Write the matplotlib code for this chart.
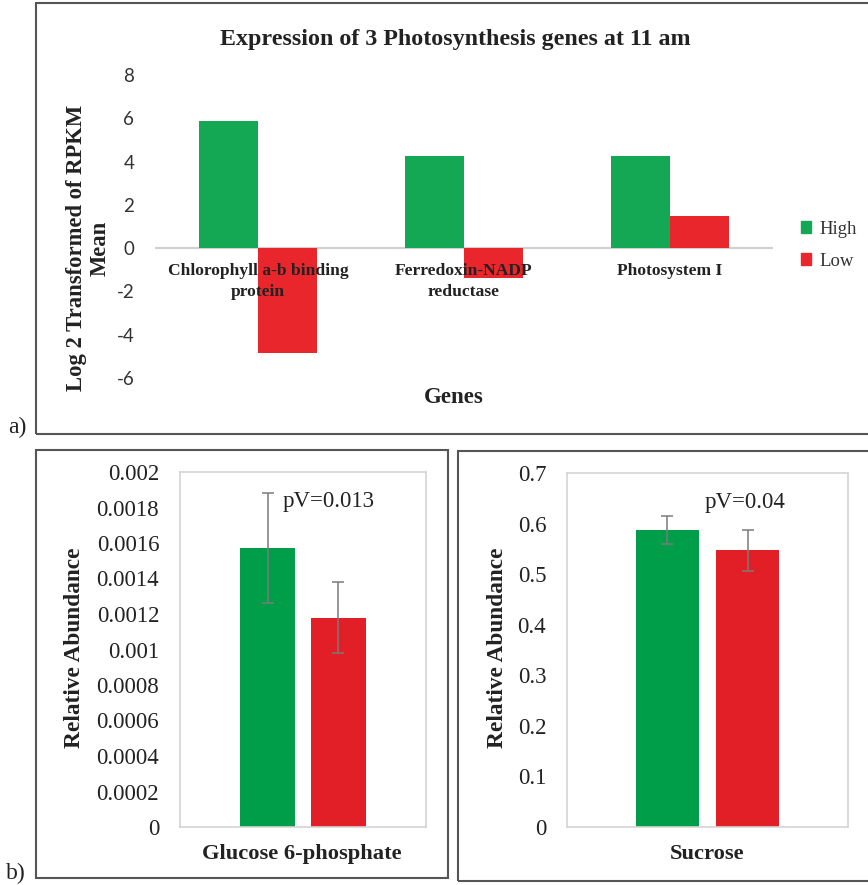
import matplotlib
matplotlib.use("Agg")
import matplotlib.pyplot as plt
from matplotlib.patches import Rectangle, Patch

# ---- data ----
genes = ["Chlorophyll a-b binding\nprotein", "Ferredoxin-NADP\nreductase", "Photosystem I"]
expr_high = [5.86, 4.24, 4.24]
expr_low = [-4.84, -1.36, 1.50]
expr_ticks = [-6, -4, -2, 0, 2, 4, 6, 8]

g6p_means = [0.00157, 0.00118]
g6p_err = [0.00031, 0.00020]
g6p_ticks = [0, 0.0002, 0.0004, 0.0006, 0.0008, 0.001, 0.0012, 0.0014, 0.0016, 0.0018, 0.002]
g6p_tick_labels = ["0", "0.0002", "0.0004", "0.0006", "0.0008", "0.001", "0.0012",
                   "0.0014", "0.0016", "0.0018", "0.002"]

suc_means = [0.587, 0.547]
suc_err = [0.027, 0.040]
suc_ticks = [0, 0.1, 0.2, 0.3, 0.4, 0.5, 0.6, 0.7]

W, H = 868, 885
fig = plt.figure(figsize=(W / 100, H / 100), dpi=100)
SERIF = "Liberation Serif"

def fx(px):
    return px / W

def fy(py):
    return 1 - py / H

def box(x0, y0, x1, y1, color="#555555", lw=1.5):
    fig.add_artist(Rectangle((fx(x0), fy(y1)), fx(x1) - fx(x0), fy(y0) - fy(y1),
                             transform=fig.transFigure, fill=False,
                             edgecolor=color, linewidth=lw, clip_on=False))

# ---- panel a: gene expression ----
green_a, red_a = "#14a854", "#e9262b"
ax = fig.add_axes([fx(155), fy(378), fx(773) - fx(155), fy(75) - fy(378)])
xs = range(len(genes))
bw = 0.286
ax.bar([x - bw / 2 for x in xs], expr_high, width=bw, color=green_a, label="High", zorder=2)
ax.bar([x + bw / 2 for x in xs], expr_low, width=bw, color=red_a, label="Low", zorder=2)
ax.axhline(0, color="#d0d0d0", linewidth=1.6, zorder=1)
ax.set_xlim(-0.5, len(genes) - 0.5)
ax.set_ylim(-6, 8)
ax.set_yticks(expr_ticks)
ax.set_yticklabels([str(t) for t in expr_ticks], fontfamily="Lato", fontsize=13.5, color="#333333")
ax.tick_params(axis="y", length=0, pad=15)
ax.set_xticks([])
for s in ax.spines.values():
    s.set_visible(False)
for x, g in zip(xs, genes):
    ax.annotate(g, xy=(x, 0), xytext=(0, -10.5), textcoords="offset points",
                ha="center", va="top", fontfamily=SERIF, fontweight="bold",
                fontsize=12.6, linespacing=1.4, color="#222222", zorder=3)

fig.text(fx(455), fy(40), "Expression of 3 Photosynthesis genes at 11 am",
         ha="center", va="center", fontfamily=SERIF, fontweight="bold", fontsize=17.3,
         color="#222222")
fig.text(fx(88), fy(248), "Log 2 Transformed of RPKM\nMean", rotation=90,
         ha="center", va="center", fontfamily=SERIF, fontweight="bold", fontsize=16.3,
         linespacing=1.15, color="#222222", multialignment="center")
fig.text(fx(454), fy(398), "Genes", ha="center", va="center", fontfamily=SERIF,
         fontweight="bold", fontsize=16.5, color="#222222")
ax.legend(handles=[Patch(color=green_a, label="High"), Patch(color=red_a, label="Low")],
          loc="center left", bbox_to_anchor=(fx(801), fy(245)), bbox_transform=fig.transFigure,
          frameon=False, prop={"family": SERIF, "size": 13.5}, handlelength=0.55,
          handleheight=0.55, handletextpad=0.45, labelspacing=0.8, borderpad=0,
          borderaxespad=0, labelcolor="#333333")
fig.text(fx(17), fy(427), "a)", ha="center", va="center", fontfamily=SERIF,
         fontsize=17, color="#222222")
box(36, 3, 900, 434)

# ---- panel b: metabolite abundance ----
green_b, red_b = "#009e49", "#e21f26"

def abundance_panel(rect, means, errs, ticks, tick_labels, ylim, pv, pv_pos):
    a = fig.add_axes(rect)
    offs = [-0.143, 0.143]
    a.bar(offs, means, width=0.224, color=[green_b, red_b], zorder=2,
          yerr=errs, error_kw=dict(ecolor="#7a7a7a", elinewidth=1.1, capsize=4, capthick=1.1))
    a.set_xlim(-0.5, 0.5)
    a.set_ylim(*ylim)
    a.set_yticks(ticks)
    a.set_yticklabels(tick_labels, fontfamily=SERIF, fontsize=16.5, color="#222222")
    a.tick_params(axis="y", length=0, pad=15)
    a.set_xticks([])
    for s in a.spines.values():
        s.set_color("#d4d4d4")
        s.set_linewidth(1.2)
    a.text(pv_pos[0], pv_pos[1], pv, transform=a.transAxes, ha="left", va="center",
           fontfamily=SERIF, fontsize=16.5, color="#222222")
    return a

abundance_panel([fx(180), fy(827), fx(426) - fx(180), fy(472) - fy(827)],
                g6p_means, g6p_err, g6p_ticks, g6p_tick_labels, (0, 0.002),
                "pV=0.013", (0.418, 0.918))
fig.text(fx(75), fy(648), "Relative Abundance", rotation=90, ha="center", va="center",
         fontfamily=SERIF, fontweight="bold", fontsize=16.8, color="#222222")
fig.text(fx(302), fy(854), "Glucose 6-phosphate", ha="center", va="center",
         fontfamily=SERIF, fontweight="bold", fontsize=16.2, color="#222222")
box(36, 450, 448, 878)

abundance_panel([fx(567), fy(827), fx(848) - fx(567), fy(473) - fy(827)],
                suc_means, suc_err, suc_ticks, [str(t) if t else "0" for t in suc_ticks],
                (0, 0.7), "pV=0.04", (0.49, 0.918))
fig.text(fx(497), fy(648), "Relative Abundance", rotation=90, ha="center", va="center",
         fontfamily=SERIF, fontweight="bold", fontsize=16.8, color="#222222")
fig.text(fx(707), fy(854), "Sucrose", ha="center", va="center",
         fontfamily=SERIF, fontweight="bold", fontsize=16.2, color="#222222")
box(458, 451, 900, 881)

fig.text(fx(16), fy(873), "b)", ha="center", va="center", fontfamily=SERIF,
         fontsize=17, color="#222222")

fig.savefig("out.png", dpi=100)
